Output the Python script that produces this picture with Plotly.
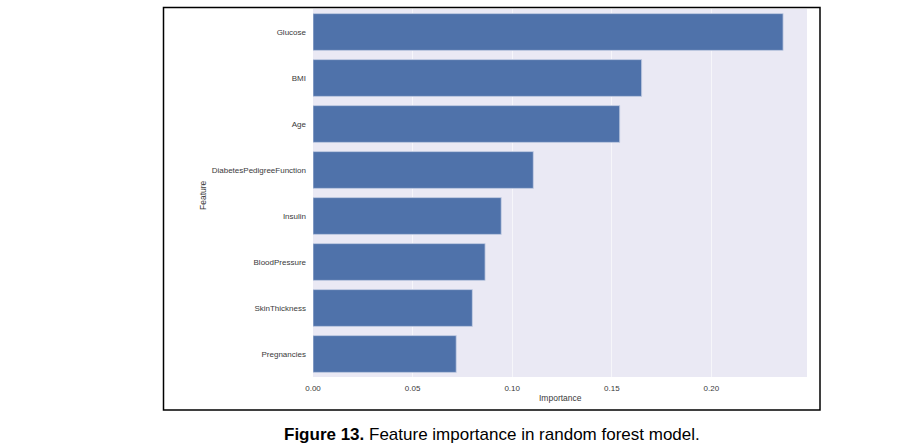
import plotly.graph_objects as go

features = ["Glucose", "BMI", "Age", "DiabetesPedigreeFunction", "Insulin",
            "BloodPressure", "SkinThickness", "Pregnancies"]
importance = [0.236, 0.165, 0.154, 0.1106, 0.0945, 0.0864, 0.080, 0.0719]
xticks = [0.0, 0.05, 0.10, 0.15, 0.20]
xticklabels = ["0.00", "0.05", "0.10", "0.15", "0.20"]

W, H = 909, 447
L, R, T, B = 313, 807, 9, 377

fig = go.Figure(go.Bar(
    x=importance, y=features, orientation="h",
    marker=dict(color="#4F72AA", line=dict(width=0.8, color="#C9D2E6")),
    width=0.8,
))

pw, ph = R - L, B - T
def px(x):
    return (x - L) / pw
def py(y):
    return (B - y) / ph

fig.update_layout(
    width=W, height=H,
    margin=dict(l=L, r=W - R, t=T, b=H - B, pad=0),
    paper_bgcolor="white",
    plot_bgcolor="#EAE9F4",
    showlegend=False,
    font=dict(family="Liberation Sans, Arial", size=8, color="#3a3a3a"),
    xaxis=dict(range=[0, 0.248], tickvals=xticks, ticktext=xticklabels,
               showgrid=True, gridcolor="#F6F6FA", gridwidth=1, zeroline=False,
               showline=False, ticks="", ticklabelstandoff=5,
               tickfont=dict(size=8, color="#3a3a3a")),
    yaxis=dict(categoryorder="array", categoryarray=features[::-1],
               range=[-0.5, 7.5], showgrid=False,
               zeroline=False, showline=False, ticks="", ticklabelstandoff=6,
               tickfont=dict(size=8, color="#3a3a3a")),
    shapes=[dict(type="rect", xref="paper", yref="paper",
                 x0=px(163.5), x1=px(820), y0=py(410), y1=py(7.5),
                 line=dict(color="black", width=1.5), fillcolor="rgba(0,0,0,0)",
                 layer="above")],
    annotations=[
        dict(text="Feature", xref="paper", yref="paper", x=px(203), y=py(195),
             textangle=-90, showarrow=False, font=dict(size=8.5, color="#3a3a3a"),
             xanchor="center", yanchor="middle"),
        dict(text="Importance", xref="paper", yref="paper", x=px(560), y=py(398),
             showarrow=False, font=dict(size=8.5, color="#3a3a3a"),
             xanchor="center", yanchor="middle"),
        dict(text="<b>Figure 13.</b> Feature importance in random forest model.",
             xref="paper", yref="paper", x=px(492), y=py(434),
             showarrow=False, font=dict(family="Liberation Sans, Arial", size=17, color="black"),
             xanchor="center", yanchor="middle"),
    ],
)

fig.write_html("out.html")
